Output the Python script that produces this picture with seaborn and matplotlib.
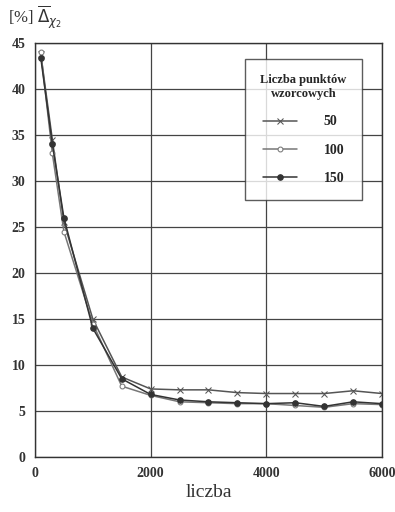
import matplotlib
matplotlib.use("Agg")
import matplotlib.pyplot as plt
import seaborn as sns
import pandas as pd
from matplotlib.ticker import MultipleLocator

x = [100, 300, 500, 1000, 1500, 2000, 2500, 3000, 3500, 4000, 4500, 5000, 5500, 6000]
s50 = [43.8, 34.5, 25.5, 15.0, 8.7, 7.4, 7.3, 7.3, 7.0, 6.9, 6.9, 6.9, 7.2, 6.9]
s100 = [44.0, 33.0, 24.5, 14.5, 7.7, 6.7, 6.0, 5.9, 5.8, 5.8, 5.6, 5.4, 5.8, 5.7]
s150 = [43.4, 34.0, 26.0, 14.0, 8.5, 6.8, 6.2, 6.0, 5.9, 5.8, 5.9, 5.5, 6.0, 5.8]
labels = ["50", "100", "150"]

sns.set_style("white")
plt.rcParams['font.family'] = ['Liberation Serif', 'DejaVu Serif']

fig = plt.figure(figsize=(3.95, 5.12), dpi=100)
ax = fig.add_axes([0.0886, 0.1074, 0.8784, 0.8086])

styles = [
    dict(marker='x', color='#555555', markersize=4.5, mfc='#555555'),
    dict(marker='o', color='#777777', markersize=3.5, mfc='white'),
    dict(marker='o', color='#333333', markersize=4, mfc='#333333'),
]
for vals, lab, st in zip([s50, s100, s150], labels, styles):
    df = pd.DataFrame({"x": x, "y": vals})
    sns.lineplot(data=df, x="x", y="y", ax=ax, label=lab, linewidth=1.1,
                 marker=st['marker'], color=st['color'], markersize=st['markersize'],
                 markerfacecolor=st['mfc'], markeredgecolor=st['color'])

ax.set_xlim(0, 6000)
ax.set_ylim(0, 45)
ax.xaxis.set_major_locator(MultipleLocator(2000))
ax.xaxis.set_minor_locator(MultipleLocator(500))
ax.yaxis.set_major_locator(MultipleLocator(5))
ax.yaxis.set_minor_locator(MultipleLocator(2.5))
ax.grid(True, which='major', color='#444444', linewidth=0.9)
for s in ax.spines.values():
    s.set_visible(True)
    s.set_color('#333333')
    s.set_linewidth(1.0)
ax.tick_params(which='major', direction='in', length=0, labelsize=10, pad=7, colors='#333333')
ax.tick_params(which='minor', direction='in', length=3, color='#555555')
for t in ax.get_xticklabels() + ax.get_yticklabels():
    t.set_fontweight('bold')
ax.set_xlabel("liczba", fontsize=14, color='#333333', labelpad=3)
ax.set_ylabel("")
fig.text(0.02, 0.955, r"[%] $\overline{\Delta}_{\chi_2}$", fontsize=12, color='#333333')

leg = ax.legend(title="Liczba punktów\nwzorcowych", loc='upper right',
                bbox_to_anchor=(0.962, 0.978), frameon=True, fancybox=False,
                edgecolor='#333333', fontsize=10, title_fontsize=9,
                borderpad=1.1, labelspacing=1.1, handlelength=2.5, handletextpad=1.9)
leg.get_frame().set_linewidth(1.0)
leg.get_title().set_fontweight('bold')
leg.get_title().set_multialignment('center')
for t in leg.get_texts():
    t.set_fontweight('bold')

fig.savefig("out.png", dpi=100)
